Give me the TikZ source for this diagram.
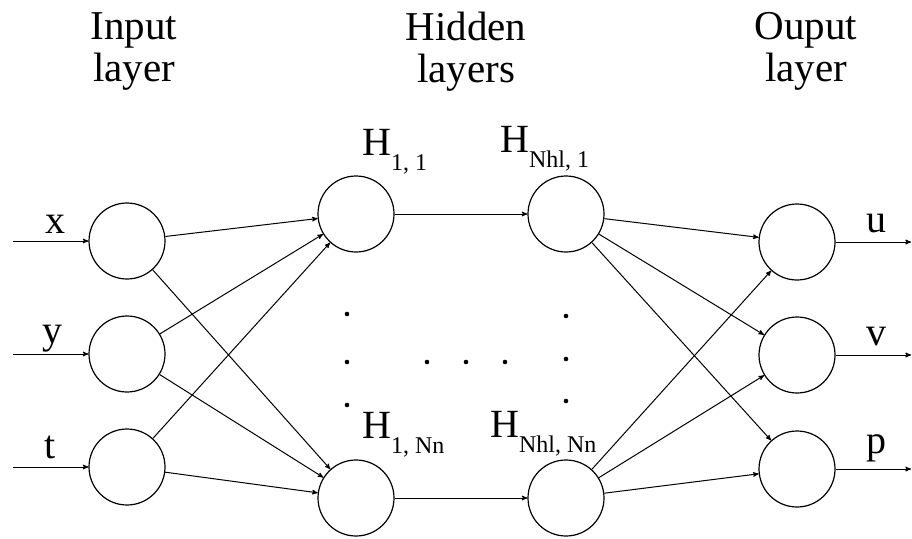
\documentclass[tikz,border=0pt]{standalone}
\usepackage{fontspec}
\setmainfont{Liberation Serif}
\usetikzlibrary{positioning,shapes,arrows}
\newcommand{\hlab}[1]{H\raisebox{-15pt}{\fontsize{24}{24}\selectfont #1}}

\begin{document}
\begin{tikzpicture}[x=1pt,y=-1pt,
  neuron/.style={draw,circle,minimum size=76pt,inner sep=0pt,line width=1.2pt},
  conn/.style={->,>=stealth',line width=1pt},
  title/.style={align=center,inner sep=0pt,anchor=north,font=\fontsize{41}{42}\selectfont},
  lab/.style={inner sep=0pt,anchor=base,font=\fontsize{40}{40}\selectfont}]
\useasboundingbox (0,0) rectangle (912,538);
% titles
\node[title] (tin) at (134,12) {Input\\layer};
\node[title] (thid) at (466,12) {Hidden\\layers};
\node[title] (tout) at (806,12) {Ouput\\layer};
% input layer
\node[neuron] (x) at (127,241) {};
\node[neuron] (y) at (127,354) {};
\node[neuron] (t) at (127,467) {};
% hidden layers
\node[neuron] (h11) at (356,214) {};
\node[neuron] (h1n) at (356,498) {};
\node[neuron] (hl1) at (566,214) {};
\node[neuron] (hln) at (566,498) {};
% output layer
\node[neuron] (u) at (797,242) {};
\node[neuron] (v) at (797,355) {};
\node[neuron] (p) at (797,469) {};
% free ends
\coordinate (xin) at (13,241);
\coordinate (yin) at (13,354);
\coordinate (tin0) at (13,467);
\coordinate (uout) at (911,242);
\coordinate (vout) at (911,355);
\coordinate (pout) at (911,469);
% labels
\node[lab] (lx) at (55,233) {x};
\node[lab] (ly) at (52,343) {y};
\node[lab] (lt) at (50,458) {t};
\node[lab] (lu) at (876,232) {u};
\node[lab] (lv) at (876,345) {v};
\node[lab] (lp) at (876,453) {p};
\node[lab,anchor=base west] (l11) at (362,155) {\hlab{1, 1}};
\node[lab,anchor=base west] (l1n) at (362,438) {\hlab{1, Nn}};
\node[lab,anchor=base west] (ll1) at (500,152) {\hlab{Nhl, 1}};
\node[lab,anchor=base west] (lln) at (490,437) {\hlab{Nhl, Nn}};
% connections
\draw[conn] (xin) -- (x);
\draw[conn] (yin) -- (y);
\draw[conn] (tin0) -- (t);
\foreach \a in {x,y,t} {
  \draw[conn] (\a) -- (h11);
  \draw[conn] (\a) -- (h1n);
}
\draw[conn] (h11) -- (hl1);
\draw[conn] (h1n) -- (hln);
\foreach \b in {u,v,p} {
  \draw[conn] (hl1) -- (\b);
  \draw[conn] (hln) -- (\b);
}
\draw[conn] (u) -- (uout);
\draw[conn] (v) -- (vout);
\draw[conn] (p) -- (pout);
% dots
\foreach \pt in {(347,314),(347,362),(347,405),(427,362),(466,362),(505,362),(566,316),(566,359),(566,401)}
  \fill \pt circle (2.3pt);
\end{tikzpicture}
\end{document}
